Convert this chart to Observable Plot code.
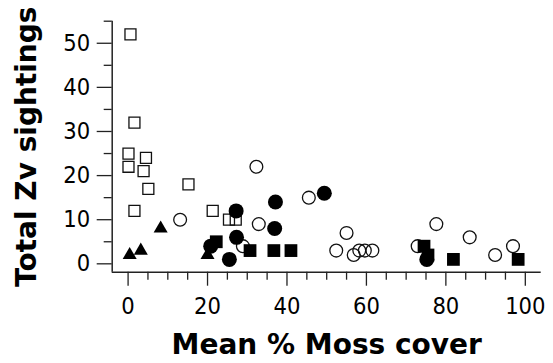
<!DOCTYPE html>
<html><head><meta charset="utf-8">
<script src="https://cdn.jsdelivr.net/npm/d3@7"></script>
<script src="https://cdn.jsdelivr.net/npm/@observablehq/plot@0.6"></script>
<style>body{margin:0;background:#fff}</style>
</head><body><div id="chart"></div>
<script>
// Open squares
const openSquareX = [0.6, 1.6, 0.1, 0.1, 4.5, 3.9, 5.1, 15.2, 1.6, 21.3, 25.4, 27.1];
const openSquareY = [52, 32, 25, 22, 24, 21, 17, 18, 12, 12, 10, 10];
// Filled triangles
const triangleX = [8.2, 0.4, 3.2, 20.0];
const triangleY = [8, 2, 3, 2];
// Filled squares
const filledSquareX = [22.2, 30.7, 36.7, 41.0, 74.5, 75.5, 81.9, 98.2];
const filledSquareY = [5, 3, 3, 3, 4, 2, 1, 1];
// Filled circles
const filledCircleX = [27.2, 37.1, 36.9, 27.3, 25.5, 20.8, 49.4, 75.2];
const filledCircleY = [12, 14, 8, 6, 1, 4, 16, 1];
// Open circles
const openCircleX = [13.1, 32.3, 32.9, 45.5, 28.9, 55.0, 52.4, 56.8, 58.2, 59.6, 61.5, 72.9, 77.6, 86.0, 92.4, 96.9];
const openCircleY = [10, 22, 9, 15, 4, 7, 3, 2, 3, 3, 3, 4, 9, 6, 2, 4];

const xMajor = [0, 20, 40, 60, 80, 100];
const xMinor = [5, 10, 15, 25, 30, 35, 45, 50, 55, 65, 70, 75, 85, 90, 95];
const yMajor = [0, 10, 20, 30, 40, 50];
const yMinor = [5, 15, 25, 35, 45, 55];

const xTitle = "Mean % Moss cover";
const yTitle = "Total Zv sightings";

const rows = (xs, ys) => xs.map((x, i) => ({x, y: ys[i]}));

const tickFont = "'DejaVu Sans Condensed', 'DejaVu Sans', sans-serif";
const titleFont = "'DejaVu Sans', Verdana, sans-serif";

const chart = Plot.plot({
  width: 553,
  height: 363,
  marginLeft: 111.7,
  marginRight: 12.3,
  marginTop: 20.7,
  marginBottom: 91.3,
  style: {fontFamily: tickFont, background: "#fff", color: "#000"},
  x: {domain: [-4, 104]},
  y: {domain: [-1.9, 55]},
  marks: [
    Plot.axisX({ticks: xMinor, tickSize: 8, text: null, stroke: "#222", strokeWidth: 1.3, label: null}),
    Plot.axisX({ticks: xMajor, tickSize: 14, tickPadding: 11, fontSize: 23.5, stroke: "#222", strokeWidth: 1.3, label: null, fill: "#000"}),
    Plot.axisY({ticks: yMinor, tickSize: 8, text: null, stroke: "#222", strokeWidth: 1.3, label: null}),
    Plot.axisY({ticks: yMajor, tickSize: 15, tickPadding: 7, fontSize: 23.5, stroke: "#222", strokeWidth: 1.3, label: null, fill: "#000"}),
    Plot.ruleX([-4], {stroke: "#222", strokeWidth: 1.5}),
    Plot.ruleY([-1.9], {stroke: "#222", strokeWidth: 1.5}),
    Plot.dot(rows(openCircleX, openCircleY), {x: "x", y: "y", symbol: "circle", r: 6.4, stroke: "#111", strokeWidth: 1.3, fill: "none"}),
    Plot.dot(rows(openSquareX, openSquareY), {x: "x", y: "y", symbol: "square", r: 6.2, stroke: "#111", strokeWidth: 1.3, fill: "none"}),
    Plot.dot(rows(triangleX, triangleY), {x: "x", y: "y", symbol: "triangle", r: 5.2, fill: "#000", stroke: "none"}),
    Plot.dot(rows(filledSquareX, filledSquareY), {x: "x", y: "y", symbol: "square", r: 7.2, fill: "#000", stroke: "none"}),
    Plot.dot(rows(filledCircleX, filledCircleY), {x: "x", y: "y", symbol: "circle", r: 7.5, fill: "#000", stroke: "none"}),
    Plot.text([xTitle], {frameAnchor: "bottom", textAnchor: "middle", lineAnchor: "middle", dy: 72.6, fontSize: 28, fontWeight: "bold", fontFamily: titleFont, fill: "#000"}),
    Plot.text([yTitle], {frameAnchor: "left", textAnchor: "middle", lineAnchor: "middle", rotate: -90, dx: -84.7, fontSize: 28, fontWeight: "bold", fontFamily: titleFont, fill: "#000"})
  ]
});
document.getElementById("chart").appendChild(chart);
</script>
</body></html>
